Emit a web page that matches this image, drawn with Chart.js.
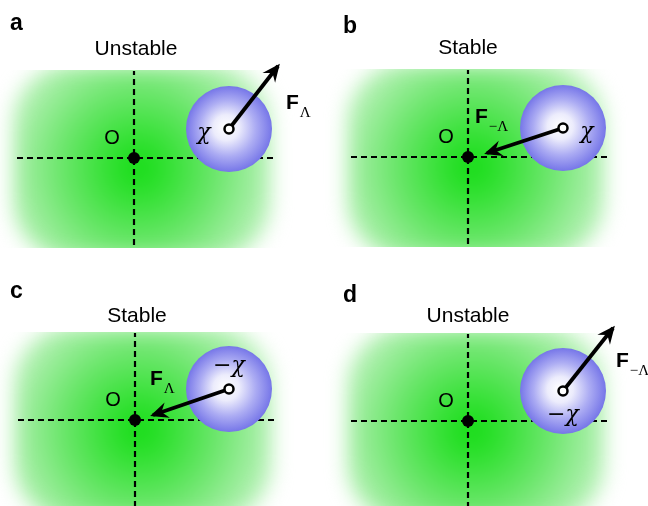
<!DOCTYPE html>
<html>
<head>
<meta charset="utf-8">
<script src="https://cdn.jsdelivr.net/npm/chart.js@4.4.1/dist/chart.umd.min.js"></script>
<style>
  html, body { margin: 0; padding: 0; background: #fff; }
  canvas { display: block; }
</style>
</head>
<body>
<canvas id="chart" width="648" height="506"></canvas>
<script>
// Panels and their labels
const panelNames = ["a", "b", "c", "d"];
const stability = ["Unstable", "Stable", "Stable", "Unstable"];
// Origin O of each panel (diagram units, y up)
const originX = [0, 334, 1, 334];
const originY = [0, 1, -262, -263];
// Particle position relative to O
const particleX = [95, 95, 94, 95];
const particleY = [29, 29, 31, 30];
// Force vector acting on the particle
const forceX = [49, -76, -76, 50];
const forceY = [63, -25, -26, 63];
const particleText = ["\u03c7", "\u03c7", "\u2212\u03c7", "\u2212\u03c7"];
const forceSub = ["\u039b", "\u2212\u039b", "\u039b", "\u2212\u039b"];
// Extent of the dashed axes around O
const axisX = [-117, 140];
const axisY = [-87, 87];

// label offsets in pixels (layout only)
const chiOffset = [[-25, 4], [24, 4], [0, -23], [0, 24]];
const forceOffset = [[57, -20], [-88, -5], [-79, -4], [53, -24]];
const letterOffset = [[-124, -128], [-125, -124], [-125, -122], [-125, -119]];
const titleOffset = [[2, -103], [0, -103], [2, -98], [0, -99]];

const SANS = '"Liberation Sans", Arial, sans-serif';
const SERIF = '"Liberation Serif", "Times New Roman", serif';

function px(chart, xv, yv) {
  return [chart.scales.x.getPixelForValue(xv), chart.scales.y.getPixelForValue(yv)];
}

// Green field behind each panel
const fieldPlugin = {
  id: "fields",
  beforeDatasetsDraw(chart) {
    const ctx = chart.ctx;
    originX.forEach((ox, i) => {
      const [cx, cy] = px(chart, ox, originY[i]);
      ctx.save();
      ctx.beginPath();
      ctx.rect(cx - 150, cy - 88, 320, 178);
      ctx.clip();
      ctx.filter = "blur(10px)";
      const g = ctx.createRadialGradient(cx + 4, cy + 10, 0, cx + 4, cy + 10, 155);
      g.addColorStop(0, "rgb(20,220,20)");
      g.addColorStop(0.2, "rgb(52,225,52)");
      g.addColorStop(0.5, "rgb(108,230,108)");
      g.addColorStop(0.8, "rgb(170,239,170)");
      g.addColorStop(1, "rgb(218,247,218)");
      ctx.fillStyle = g;
      ctx.beginPath();
      ctx.roundRect(cx - 121, cy - 93, 258, 194, 56);
      ctx.fill();
      ctx.restore();
    });
  }
};

// Arrowheads and text
const labelPlugin = {
  id: "labels",
  afterDatasetsDraw(chart) {
    const ctx = chart.ctx;
    ctx.save();
    originX.forEach((ox, i) => {
      const [sx, sy] = px(chart, ox + particleX[i], originY[i] + particleY[i]);
      const [ex, ey] = px(chart, ox + particleX[i] + forceX[i], originY[i] + particleY[i] + forceY[i]);
      const a = Math.atan2(ey - sy, ex - sx);
      const tx = ex + 3 * Math.cos(a), ty = ey + 3 * Math.sin(a);
      const L = 18, W = 8, N = 6;
      const bx = tx - L * Math.cos(a), by = ty - L * Math.sin(a);
      ctx.fillStyle = "#000";
      ctx.beginPath();
      ctx.moveTo(tx, ty);
      ctx.lineTo(bx - W * Math.sin(a), by + W * Math.cos(a));
      ctx.lineTo(tx - (L - N) * Math.cos(a), ty - (L - N) * Math.sin(a));
      ctx.lineTo(bx + W * Math.sin(a), by - W * Math.cos(a));
      ctx.closePath();
      ctx.fill();
    });
    ctx.restore();
  },
  afterDraw(chart) {
    const ctx = chart.ctx;
    ctx.save();
    ctx.fillStyle = "#000";
    originX.forEach((ox, i) => {
      const [cx, cy] = px(chart, ox, originY[i]);
      const [pxp, pyp] = px(chart, ox + particleX[i], originY[i] + particleY[i]);

      ctx.textBaseline = "alphabetic";
      ctx.textAlign = "left";
      ctx.font = "bold 23px " + SANS;
      ctx.fillText(panelNames[i], cx + letterOffset[i][0], cy + letterOffset[i][1]);

      ctx.textAlign = "center";
      ctx.font = "21px " + SANS;
      ctx.fillText(stability[i], cx + titleOffset[i][0], cy + titleOffset[i][1]);

      ctx.font = "20px " + SANS;
      ctx.fillText("O", cx - 22, cy - 14);

      ctx.textBaseline = "middle";
      ctx.font = "italic 22px \"DejaVu Serif\", serif";
      ctx.fillText(particleText[i], pxp + chiOffset[i][0], pyp + chiOffset[i][1]);

      ctx.textBaseline = "alphabetic";
      ctx.textAlign = "left";
      const fx = pxp + forceOffset[i][0], fy = pyp + forceOffset[i][1];
      ctx.font = "bold 21px " + SANS;
      ctx.fillText("F", fx, fy);
      const fw = ctx.measureText("F").width;
      ctx.font = "15px " + SERIF;
      ctx.fillText(forceSub[i], fx + fw + 1, fy + 8);
    });
    ctx.restore();
  }
};

const datasets = [];

// dashed axes through O
originX.forEach((ox, i) => {
  const oy = originY[i];
  datasets.push({
    type: "line",
    data: [{ x: ox + axisX[0], y: oy }, { x: ox + axisX[1], y: oy }],
    borderColor: "#000", borderWidth: 2.2, borderDash: [6, 4],
    pointRadius: 0, order: 6
  });
  datasets.push({
    type: "line",
    data: [{ x: ox, y: oy + axisY[0] }, { x: ox, y: oy + axisY[1] }],
    borderColor: "#000", borderWidth: 2.2, borderDash: [6, 4],
    pointRadius: 0, order: 6
  });
});

// particle clouds
datasets.push({
  type: "scatter",
  data: originX.map((ox, i) => ({ x: ox + particleX[i], y: originY[i] + particleY[i] })),
  pointRadius: 43,
  borderWidth: 0,
  backgroundColor: (c) => {
    const chart = c.chart;
    if (c.type !== "data" || !chart.chartArea) return "#a0a0f0";
    const [x0, y0] = px(chart, c.raw.x, c.raw.y);
    const g = chart.ctx.createRadialGradient(x0 - 4, y0 - 2, 0, x0, y0, 43);
    g.addColorStop(0, "#ffffff");
    g.addColorStop(0.3, "#ececfc");
    g.addColorStop(0.65, "#acacf3");
    g.addColorStop(1, "#7676e8");
    return g;
  },
  order: 5
});

// origin dots
datasets.push({
  type: "scatter",
  data: originX.map((ox, i) => ({ x: ox, y: originY[i] })),
  pointRadius: 6, backgroundColor: "#000", borderWidth: 0, order: 4
});

// force arrows
originX.forEach((ox, i) => {
  const x0 = ox + particleX[i], y0 = originY[i] + particleY[i];
  datasets.push({
    type: "line",
    data: [{ x: x0, y: y0 }, { x: x0 + forceX[i], y: y0 + forceY[i] }],
    borderColor: "#000", borderWidth: 3.8, pointRadius: 0, order: 3
  });
});

// particle centre markers
datasets.push({
  type: "scatter",
  data: originX.map((ox, i) => ({ x: ox + particleX[i], y: originY[i] + particleY[i] })),
  pointRadius: 4.5, backgroundColor: "#fff", borderColor: "#000", borderWidth: 2.5, order: 1
});

new Chart(document.getElementById("chart"), {
  type: "scatter",
  data: { datasets },
  options: {
    responsive: false,
    animation: false,
    events: [],
    layout: { padding: 0, autoPadding: false },
    plugins: { legend: { display: false }, tooltip: { enabled: false }, title: { display: false } },
    scales: {
      x: { type: "linear", min: -134, max: 514, display: false },
      y: { type: "linear", min: -348, max: 158, display: false }
    }
  },
  plugins: [fieldPlugin, labelPlugin]
});
</script>
</body>
</html>
